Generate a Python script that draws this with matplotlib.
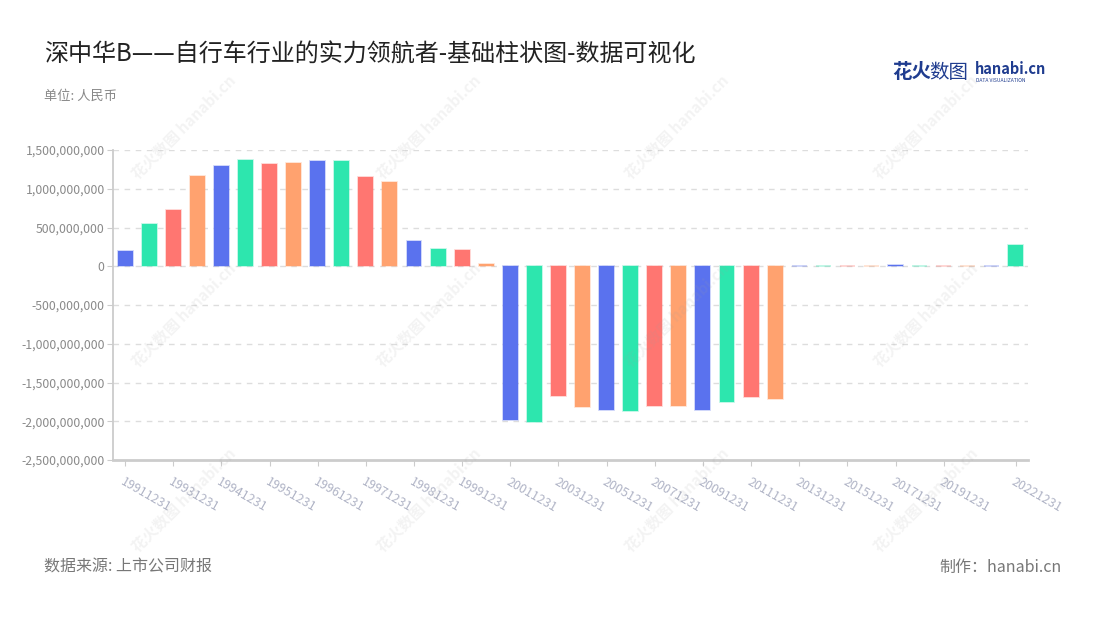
import matplotlib
matplotlib.use("Agg")
import matplotlib.pyplot as plt
from matplotlib.ticker import FuncFormatter

plt.rcParams['font.family'] = ['Noto Sans CJK SC', 'DejaVu Sans']

# report dates (x categories)
dates = ['19911231', '19921231', '19931231', '19940630', '19941231', '19950630',
         '19951231', '19960630', '19961231', '19970630', '19971231', '19980630',
         '19981231', '19990630', '19991231'] + [f'{y}1231' for y in range(2000, 2023)]

# values in RMB
values = [200e6, 550e6, 731e6, 1160e6, 1293e6, 1366e6, 1318e6, 1327e6, 1353e6, 1362e6,
          1151e6, 1087e6, 326e6, 228e6, 210e6, 30e6,
          -1983e6, -2005e6, -1679e6, -1821e6, -1850e6, -1864e6, -1804e6, -1800e6,
          -1859e6, -1753e6, -1683e6, -1708e6,
          8e6, 8e6, 8e6, 8e6, 12e6, 8e6, 6e6, 8e6, 8e6, 280e6]

palette = ['#5A72EE', '#2DE6AE', '#FF7671', '#FFA26F']
shown_idx = list(range(0, 35, 2)) + [37]
yticks = [-2.5e9 + 5e8 * k for k in range(9)]

title = '深中华B——自行车行业的实力领航者-基础柱状图-数据可视化'

fig = plt.figure(figsize=(11, 6.2), dpi=100)
ax = fig.add_axes([113 / 1100, 160 / 620, 915 / 1100, 310 / 620])

x = list(range(len(dates)))
colors = [palette[i % 4] for i in x]
bars = ax.bar(x, values, width=0.62, color=colors, zorder=3)
for b, c in zip(bars, colors):
    b.set_edgecolor(matplotlib.colors.to_rgba(c, 0.35))
    b.set_linewidth(1.2)

ax.set_xlim(-0.5, len(dates) - 0.5)
ax.set_ylim(-2.5e9, 1.5e9)
ax.set_yticks(yticks)
ax.yaxis.set_major_formatter(FuncFormatter(lambda v, p: f'{v:,.0f}'))
ax.set_xticks(shown_idx)
ax.set_xticklabels([dates[i] for i in shown_idx])

for y in yticks[1:]:
    ax.axhline(y, color='#dddddd', lw=1, ls=(0, (4, 4)), zorder=1)

for s in ['top', 'right']:
    ax.spines[s].set_visible(False)
ax.spines['left'].set_color('#cccccc')
ax.spines['left'].set_linewidth(1.3)
ax.spines['bottom'].set_color('#cccccc')
ax.spines['bottom'].set_linewidth(2)

ax.tick_params(axis='y', colors='#cccccc', labelcolor='#8a8a8a', labelsize=8.8,
               length=4, pad=2)
ax.tick_params(axis='x', colors='#cccccc', labelcolor='#b0b4c6', labelsize=9,
               length=4, pad=7)
plt.setp(ax.get_xticklabels(), rotation=-30, ha='left', rotation_mode='anchor')

# titles and footer
fig.text(44 / 1100, 1 - 55 / 620, title, fontsize=17.3, color='#222222', va='center')
fig.text(44 / 1100, 1 - 96 / 620, '单位: 人民币', fontsize=9.5, color='#888888', va='center')
fig.text(44 / 1100, 1 - 567 / 620, '数据来源: 上市公司财报', fontsize=11.5, color='#777777',
         va='center')
fig.text(1062 / 1100, 1 - 567 / 620, '制作：hanabi.cn', fontsize=11.5, color='#777777',
         va='center', ha='right')

# logo
fig.text(892 / 1100, 1 - 72 / 620, '花火', fontsize=14, color='#1f3c8f',
         fontweight='bold', va='center')
fig.text(929 / 1100, 1 - 72 / 620, '数图', fontsize=14, color='#1f3c8f', va='center')
fig.text(975 / 1100, 1 - 69 / 620, 'hanabi.cn', fontsize=10.5, color='#1f3c8f',
         fontweight='bold', va='center')
fig.text(976 / 1100, 1 - 80 / 620, 'DATA VISUALIZATION', fontsize=3.6, color='#1f3c8f',
         va='center')

# watermarks
for wx in [184, 429, 677, 926]:
    for wy in [127, 315, 500]:
        fig.text(wx / 1100, 1 - wy / 620, '花火数图 hanabi.cn', fontsize=11,
                 color='#a0a0a0', alpha=0.12, rotation=45, ha='center', va='center',
                 fontweight='bold', zorder=10)

fig.savefig('out.png', dpi=100)
